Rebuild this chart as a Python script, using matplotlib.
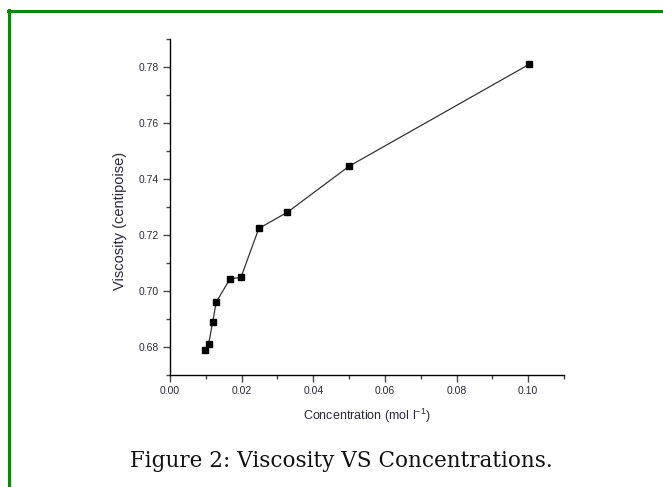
import matplotlib
matplotlib.use('Agg')
import matplotlib.pyplot as plt
from matplotlib.ticker import MultipleLocator, FormatStrFormatter
from matplotlib.lines import Line2D

concentration = [0.0097, 0.0108, 0.0119, 0.0129, 0.0168, 0.0198, 0.0248, 0.0328, 0.0500, 0.1002]
viscosity = [0.6788, 0.6811, 0.6888, 0.6960, 0.7044, 0.7048, 0.7223, 0.7281, 0.7445, 0.7808]

x_label = "Concentration (mol l$^{\\mathregular{-1}}$)"
y_label = "Viscosity (centipoise)"
caption = "Figure 2: Viscosity VS Concentrations."

W, H = 663, 487
fig = plt.figure(figsize=(W / 100, H / 100), dpi=100)
fig.patch.set_facecolor('white')

# green frame (left and top only)
green = '#0a8a0a'
fig.add_artist(Line2D([9 / W, 9 / W], [0, 1 - 10 / H], color=green, lw=2.2, transform=fig.transFigure))
fig.add_artist(Line2D([8 / W, 1], [1 - 10.5 / H, 1 - 10.5 / H], color=green, lw=2.2, transform=fig.transFigure))

ax = fig.add_axes([170 / W, (H - 375) / H, 394 / W, (375 - 38.7) / H])
ax.plot(concentration, viscosity, color='#333333', lw=0.9, marker='s', markersize=5,
        markerfacecolor='black', markeredgecolor='black')

ax.set_xlim(0, 0.11)
ax.set_ylim(0.67, 0.79)
ax.xaxis.set_major_locator(MultipleLocator(0.02))
ax.xaxis.set_minor_locator(MultipleLocator(0.01))
ax.yaxis.set_major_locator(MultipleLocator(0.02))
ax.yaxis.set_minor_locator(MultipleLocator(0.01))
ax.xaxis.set_major_formatter(FormatStrFormatter('%.2f'))
ax.yaxis.set_major_formatter(FormatStrFormatter('%.2f'))

for s in ['top', 'right']:
    ax.spines[s].set_visible(False)
for s in ['left', 'bottom']:
    ax.spines[s].set_linewidth(1.0)
    ax.spines[s].set_color('black')

ax.tick_params(which='major', direction='out', length=5, width=1, color='#444444',
               labelsize=7.5, labelcolor='#2a2a3a', pad=3)
ax.tick_params(which='minor', direction='out', length=3, width=1, color='#444444')
for lab in ax.get_xticklabels() + ax.get_yticklabels():
    lab.set_family('Liberation Sans')

ax.set_xlabel(x_label, family='Liberation Sans', fontsize=9, color='#2a2a3a', labelpad=8)
ax.set_ylabel(y_label, family='Liberation Sans', fontsize=10.5, color='#2a2a3a')
ax.yaxis.set_label_coords(-0.108, 0.458)

fig.text(341 / W, 1 - 461 / H, caption, family='DejaVu Serif', fontsize=15.5,
         ha='center', va='center', color='#111111')

fig.savefig('out.png', dpi=100)
